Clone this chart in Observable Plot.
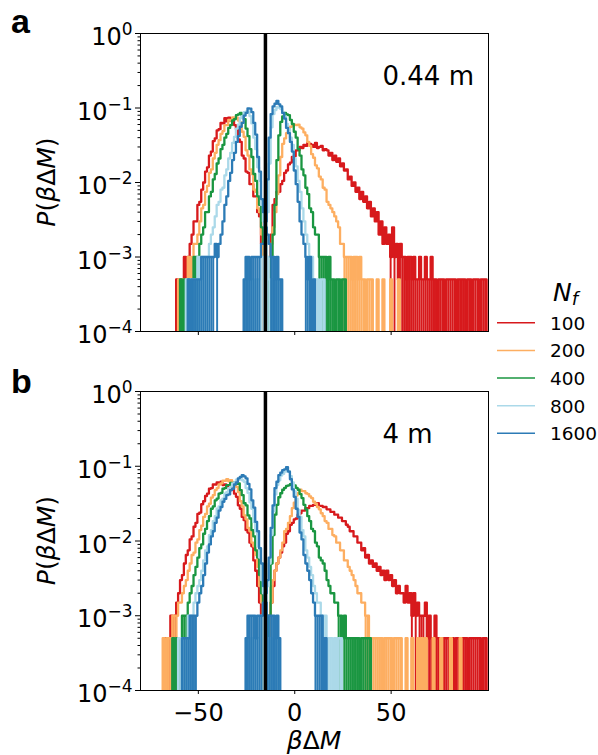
<!DOCTYPE html>
<html><head><meta charset="utf-8">
<script src="https://cdn.jsdelivr.net/npm/d3@7"></script>
<script src="https://cdn.jsdelivr.net/npm/@observablehq/plot@0.6"></script>
<style>
body{margin:0;background:#fff;}
#wrap{position:relative;width:598px;height:755px;background:#fff;overflow:hidden;}
.panel{position:absolute;left:0;}
#overlay{position:absolute;left:0;top:0;font-family:"DejaVu Sans",sans-serif;}
</style></head><body>
<div id="wrap">
<div id="pa" class="panel" style="top:0px"></div>
<div id="pb" class="panel" style="top:358px"></div>
<svg id="overlay" width="598" height="755"></svg>
</div>
<script>
// ---------------- DATA ----------------
const nfLabels = ["100", "200", "400", "800", "1600"];
const nfColors = ["#d7191c", "#fdae61", "#1a9641", "#abd9e9", "#2c7bb6"];
const panelNames = ["0.44 m", "4 m"];
const thresholdX = -15.2;          // vertical black line
const binWidth = 1;                // histogram bin width (βΔM units)
const countsPerUnitP = 2000;       // P = count / countsPerUnitP
const xTicks = [-50, 0, 50];
const yTicks = [1e-4, 1e-3, 1e-2, 1e-1, 1];

// Panel a (0.44 m): counts per bin, first bin centred at x0
const a100L = {x0: -61, counts: [1,0,1,1,2,1,2,3,4,6, 6,10,11,16,20,28,32,46,52,72, 78,100,104,126,124,146,132,148,136,138, 118,104,76,70,46,42,28,27,19,19, 13,13,8,7,3,2,1,1,0,1]};
const a200L = {x0: -60, counts: [1,0,1,1,1,2,1,2,3,3, 4,6,9,10,15,18,27,30,42,50, 64,74,90,98,118,118,138,136,150,146, 148,136,128,96,82,54,46,30,26,16, 15,9,8,4,2,2,1,1,0,1]};
const a400L = {x0: -59, counts: [1,0,1,0,1,1,1,2,2,2, 3,4,5,8,8,13,15,22,26,36, 42,56,64,80,90,108,118,136,142,160, 164,172,156,142,106,84,56,44,26,21, 13,10,5,3,2,1,1,1,0,1]};
const a800L = {x0: -56, counts: [1,0,1,1,1,1,2,1,2,2, 2,2,3,4,5,7,10,11,16,17, 25,30,42,50,68,82,106,120,146,156, 176,178,180,156,124,80,56,32,21,10, 6,3,2,1,1,1,0,1]};
const a1600L = {x0: -55, counts: [1,0,1,1,1,1,1,2,2,2, 2,2,2,2,3,2,3,4,6,10, 13,21,27,40,50,70,84,112,126,158, 172,198,196,176,126,88,44,28,12,8, 5,4,3,2,2,1,2,1,1]};
const a100R = {x0: -13, counts: [1,4,10,12,15,15,19,21,27,29, 35,37,44,45,54,54,60,58,64,62, 68,66,64,60,68,58,60,62,54,56, 54,46,50,40,46,38,42,33,36,29, 30,22,24,18,20,15,17,12,15,11, 13,9,11,7,9,6,8,4,6,3, 5,3,4,2,5,2,3,1,3,2, 2,1,2,2,1,2,1,1,2,1, 1,2,1,1,2,1,1,0,1,1, 1,0,1,1,1,1,1,0,1,1, 1,1,0,1,1,0,1,1,1,0, 1,1,1]};
const a200R = {x0: -14, counts: [1,2,3,5,8,14,25,44,66,78, 92,98,112,114,120,118,120,110,106,94, 86,70,62,48,43,34,31,24,22,17, 16,11,10,9,8,7,6,5,3,3, 2,2,2,2,1,2,2,1,2,1, 1,0,1,1,1,0,0,1,0,0, 1,0,0,0,1,0,0,0,1]};
const a400R = {x0: -14, counts: [1,1,2,4,10,40,86,130,154,172, 164,160,138,122,96,80,56,46,30,25, 17,14,9,8,5,4,4,2,2,2, 2,1,2,1,1,0,1,1,0,1, 1]};
const a800R = {x0: -25, counts: [1,0,1,1,0,1,1,1,2,2, 3,8,36,110,166,188,206,202,194,170, 152,122,104,80,64,42,33,21,15,9, 6,4,3,2,2,1,1,1,0,1, 1]};
const a1600R = {x0: -26, counts: [1,2,2,1,2,2,2,2,2,3, 3,6,22,80,166,210,228,250,224,210, 172,144,108,92,70,52,29,19,11,6, 4,3,2,1,2,0,1]};

// Panel b (4 m)
const b100L = {x0: -67, counts: [1,1,0,2,1,2,3,4,6,7, 10,13,15,21,23,31,35,46,48,62, 68,80,86,100,102,114,114,122,116,124, 112,114,104,106,96,102,86,78,60,54, 42,38,28,26,19,17,11,8,5,3, 2,1]};
const b200L = {x0: -68, counts: [1,0,1,1,1,2,2,2,3,3, 4,5,6,8,10,13,14,19,21,28, 32,42,46,58,63,76,82,96,102,114, 118,128,128,134,126,130,120,118,106,90, 68,58,44,39,30,27,19,17,13,9, 5,3,2,1]};
const b400L = {x0: -63, counts: [1,0,1,1,1,2,2,2,3,4, 5,7,9,12,16,18,25,29,37,43, 54,58,70,74,86,88,100,102,112,112, 120,118,122,116,118,96,82,64,60,44, 40,28,23,15,12,7,4,2,2,1, 1]};
const b800L = {x0: -60, counts: [1,1,0,1,1,2,2,2,3,4, 5,6,8,11,15,17,24,28,37,43, 54,58,70,74,86,90,102,106,118,122, 132,132,138,130,124,102,88,66,54,36, 27,17,12,6,4,2,1,1,1,0, 1]};
const b1600L = {x0: -58, counts: [1,1,1,1,2,2,2,2,3,4, 5,7,10,14,18,23,27,35,41,51, 57,67,73,82,84,96,100,114,122,138, 144,152,146,138,116,98,70,56,36,27, 16,10,5,3,2,2,2,2,1,2, 1]};
const b100R = {x0: -13, counts: [1,3,5,8,10,12,14,17,19,25, 27,33,35,39,40,45,47,51,51,55, 55,59,59,61,61,64,59,59,57,57, 53,53,49,49,45,45,41,41,37,37, 33,31,27,27,23,23,19,19,15,16, 12,13,10,11,9,10,8,9,7,8, 6,8,6,7,5,6,4,5,4,4, 3,5,3,4,2,4,2,3,2,2, 2,3,1,2,1,1,2,1,1,1, 0,1,1,1,1,1,0,1,1,1, 1,1,1,0,1,1,1,1,1,1, 0,1,1]};
const b200R = {x0: -13, counts: [1,3,6,8,10,12,15,19,27,29, 35,43,55,65,81,88,97,93,93,87, 85,79,75,67,63,57,53,47,43,37, 35,29,29,24,23,19,19,15,15,11, 11,9,8,7,6,5,4,4,3,3, 2,2,1,1,1,1,1,1,1,0, 1,1,1,1,0,1,1,1,1,0, 0,1,0,0,1,0,0,1,0,1, 0,1,0,0,0,1,0,0,0,1, 0,0,0,0,1,0,0,0,0,1]};
const b400R = {x0: -13, counts: [2,10,24,45,61,77,87,97,103,109, 111,115,111,111,103,97,85,75,61,53, 43,37,29,27,19,17,12,11,10,8, 6,5,4,4,3,3,2,2,1,2, 1,1,1,1,1,1,1,0,1,1, 1,1,1]};
const b800R = {x0: -24, counts: [1,0,1,1,1,1,1,2,2,3, 5,10,24,50,84,112,130,150,158,170, 170,172,148,122,92,74,52,42,28,23, 15,12,9,7,5,4,3,3,2,2, 2,1,1,1,0,1,0,1,1]};
const b1600R = {x0: -25, counts: [1,2,2,2,2,1,2,2,2,3, 4,6,12,30,60,102,124,152,164,178, 182,194,170,134,98,78,54,42,26,21, 13,10,8,6,4,3,2,2,2,2, 0,1]};

const panelA = {"100": [a100L, a100R], "200": [a200L, a200R], "400": [a400L, a400R], "800": [a800L, a800R], "1600": [a1600L, a1600R]};
const panelB = {"100": [b100L, b100R], "200": [b200L, b200R], "400": [b400L, b400R], "800": [b800L, b800R], "1600": [b1600L, b1600R]};

// ---------------- DRAWING ----------------
const FLOOR = 1e-6; // empty bins fall below the axis (log scale), clipped at frame
function stepPoints(h, nf, key) {
  const e0 = h.x0 - binWidth / 2;
  const pts = [{x: e0, p: FLOOR, nf, key}];
  h.counts.forEach((c, i) => pts.push({x: e0 + i * binWidth, p: c > 0 ? c / countsPerUnitP : FLOOR, nf, key}));
  pts.push({x: e0 + h.counts.length * binWidth, p: FLOOR, nf, key});
  return pts;
}
// sparse tail bins (1-2 counts) look solid in the original fine-binned histograms
function sparseBins(h, nf) {
  const e0 = h.x0 - binWidth / 2;
  return h.counts.map((c, i) => ({x1: e0 + i * binWidth, x2: e0 + (i + 1) * binWidth, y1: FLOOR, y2: c / countsPerUnitP, c, nf}))
    .filter(d => d.c > 0 && d.c <= 2);
}

const minorTicks = [];
for (let k = -4; k < 0; k++) for (let m = 2; m <= 9; m++) minorTicks.push(m * Math.pow(10, k));

function makePanel(panel, label, showXLabels, height, marginBottom) {
  const marks = [];
  nfLabels.forEach(nf => {
    const bins = panel[nf].flatMap(h => sparseBins(h, nf));
    marks.push(Plot.rect(bins, {x1: "x1", x2: "x2", y1: "y1", y2: "y2", fill: "nf", clip: true}));
    const pts = panel[nf].flatMap((h, j) => stepPoints(h, nf, nf + "-" + j));
    marks.push(Plot.line(pts, {x: "x", y: "p", z: "key", stroke: "nf", strokeWidth: 2.3, curve: "step-after", clip: true}));
  });
  marks.push(Plot.ruleX([thresholdX], {stroke: "black", strokeWidth: 3.5}));
  marks.push(Plot.text([label], {frameAnchor: "top-left", dx: 242, dy: 43, textAnchor: "start", lineAnchor: "middle", fontSize: 26, fill: "black"}));
  marks.push(Plot.frame({stroke: "black", strokeWidth: 1}));
  marks.push(Plot.axisX({ticks: xTicks, tickSize: 4, tickPadding: 9, fontSize: 24, label: null,
    tickFormat: showXLabels ? (d => d < 0 ? "\u2212" + Math.abs(d) : String(d)) : (() => "")}));
  marks.push(Plot.axisY({ticks: minorTicks, tickSize: 2.5, tickFormat: () => "", label: null}));
  marks.push(Plot.axisY({ticks: yTicks, tickSize: 5, tickPadding: 3, fontSize: 24, label: null,
    tickFormat: d => "10^" + Math.round(Math.log10(d))}));
  const svg = Plot.plot({
    width: 498, height,
    marginLeft: 140, marginRight: 10, marginTop: 33, marginBottom,
    x: {domain: [-80, 100.5], label: null},
    y: {type: "log", domain: [1e-4, 1], label: null},
    color: {domain: nfLabels, range: nfColors},
    style: {fontFamily: "DejaVu Sans", fontSize: "24px", color: "black", background: "transparent", overflow: "visible"},
    marks
  });
  const ns = "http://www.w3.org/2000/svg";
  svg.querySelectorAll("text").forEach(t => {
    const m = /^10\^(-?\d+)$/.exec(t.textContent);
    if (!m) return;
    const e = +m[1];
    t.textContent = "";
    const base = document.createElementNS(ns, "tspan");
    base.textContent = "10";
    const sup = document.createElementNS(ns, "tspan");
    sup.setAttribute("dy", "-10");
    sup.setAttribute("font-size", "17");
    sup.textContent = e < 0 ? "\u2212" + (-e) : String(e);
    t.append(base, sup);
    t.setAttribute("dy", "4");
  });
  return svg;
}

document.getElementById("pa").append(makePanel(panelA, panelNames[0], false, 345, 14));
document.getElementById("pb").append(makePanel(panelB, panelNames[1], true, 397, 65));

// ---------------- LABELS & LEGEND ----------------
const ov = d3.select("#overlay");
ov.append("text").attr("x", 11).attr("y", 33).attr("font-family", "Liberation Sans, Arial, sans-serif")
  .attr("font-weight", "bold").attr("font-size", 34).text("a");
ov.append("text").attr("x", 11).attr("y", 393).attr("font-family", "Liberation Sans, Arial, sans-serif")
  .attr("font-weight", "bold").attr("font-size", 34).text("b");

function pLabel(cy) {
  const t = ov.append("text").attr("transform", `translate(55,${cy}) rotate(-90)`)
    .attr("text-anchor", "middle").attr("font-size", 25);
  t.append("tspan").attr("font-style", "italic").text("P");
  t.append("tspan").text("(");
  t.append("tspan").attr("font-style", "italic").text("β");
  t.append("tspan").text("Δ");
  t.append("tspan").attr("font-style", "italic").text("M");
  t.append("tspan").text(")");
}
pLabel(182);
pLabel(540.5);

const xl = ov.append("text").attr("x", 314).attr("y", 749).attr("text-anchor", "middle").attr("font-size", 25);
xl.append("tspan").attr("font-style", "italic").text("β");
xl.append("tspan").text("Δ");
xl.append("tspan").attr("font-style", "italic").text("M");

const lt = ov.append("text").attr("x", 553).attr("y", 301).attr("font-size", 25).attr("font-style", "italic");
lt.append("tspan").text("N");
lt.append("tspan").attr("dy", 4).attr("font-size", 18).text("f");

const legendY = [322.7, 350.5, 378, 405.7, 433.3];
nfLabels.forEach((nf, i) => {
  ov.append("line").attr("x1", 497).attr("x2", 535).attr("y1", legendY[i]).attr("y2", legendY[i])
    .attr("stroke", nfColors[i]).attr("stroke-width", 1.5);
  ov.append("text").attr("x", 550).attr("y", legendY[i] + 6.8).attr("font-size", 18.5).text(nf);
});
</script>
</body></html>
